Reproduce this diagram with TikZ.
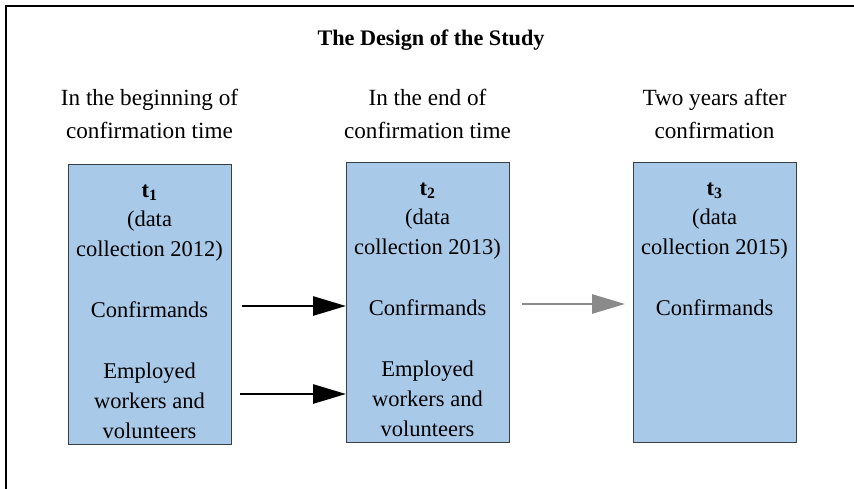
\documentclass[tikz,border=0pt]{standalone}
\usepackage{fontspec}
\setmainfont{Liberation Serif}
\usetikzlibrary{arrows.meta}
\definecolor{boxblue}{HTML}{A9C9E8}
\definecolor{boxline}{HTML}{3A3F44}
\definecolor{arrgray}{HTML}{8A8A8A}
\begin{document}
\begin{tikzpicture}[x=1pt,y=-1pt,
  stagebox/.style={draw=boxline, line width=1.3pt, fill=boxblue, minimum width=163pt, minimum height=280pt, inner sep=0pt, anchor=north west},
  txt/.style={font=\fontsize{22.5}{30}\selectfont, align=center, inner sep=0pt},
  hdr/.style={font=\fontsize{23.2}{33}\selectfont, align=center, inner sep=0pt},
  arr/.style={line width=2.8pt, -{Triangle[length=33pt,width=19pt]}},
  grayarr/.style={arr, draw=arrgray, fill=arrgray},
]
\useasboundingbox (0,0) rectangle (854,489);
\draw[line width=1.8pt] (854,6) -- (6,6) -- (6,489);
\node[inner sep=0pt, font=\bfseries\fontsize{22.2}{26}\selectfont] (title) at (431,40) {The Design of the Study};
% headers
\node[hdr] (h1) at (149.5,114) {In the beginning of\\confirmation time};
\node[hdr] (h2) at (427.5,114) {In the end of\\confirmation time};
\node[hdr] (h3) at (714.5,114) {Two years after\\confirmation};
% boxes
\node[stagebox] (b1) at (68,164) {};
\node[stagebox] (b2) at (346,162) {};
\node[stagebox] (b3) at (633,162) {};
% box 1 text
\node[txt] (t1) at (149.5,193) {\textbf{t\textsubscript{1}}};
\node[txt] (d1) at (149.5,236) {(data\\collection 2012)};
\node[txt] (c1) at (149.5,310) {Confirmands};
\node[txt] (e1) at (149.5,401) {Employed\\workers and\\volunteers};
% box 2 text
\node[txt] (t2) at (427.5,191) {\textbf{t\textsubscript{2}}};
\node[txt] (d2) at (427.5,234) {(data\\collection 2013)};
\node[txt] (c2) at (427.5,308) {Confirmands};
\node[txt] (e2) at (427.5,399) {Employed\\workers and\\volunteers};
% box 3 text
\node[txt] (t3) at (714.5,191) {\textbf{t\textsubscript{3}}};
\node[txt] (d3) at (714.5,234) {(data\\collection 2015)};
\node[txt] (c3) at (714.5,308) {Confirmands};
% arrows
\coordinate (s1) at (242,306);
\coordinate (s2) at (240,394);
\coordinate (s3) at (522,304);
\coordinate (g3) at (625,304);
\draw[arr] (s1) -- (b2.west |- s1);
\draw[arr] (s2) -- (b2.west |- s2);
\draw[grayarr] (s3) -- (g3);
\end{tikzpicture}
\end{document}
